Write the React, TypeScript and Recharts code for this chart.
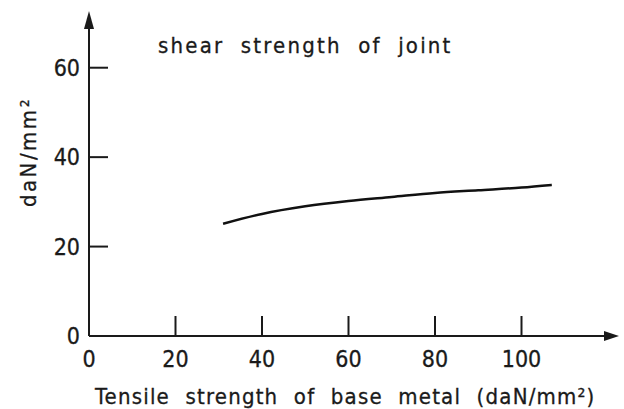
import { LineChart, Line, XAxis, YAxis, ReferenceDot } from "recharts";

// tensile strength of base metal (daN/mm²)
const tensile = [31, 40, 50, 60, 70, 80, 90, 100, 107];
// shear strength of joint (daN/mm²)
const shear = [25.1, 27.3, 29.0, 30.2, 31.1, 32.0, 32.6, 33.2, 33.8];

const xTicks = [0, 20, 40, 60, 80, 100];
const yTicks = [0, 20, 40, 60];

const data = tensile.map((t, i) => ({ t, s: shear[i] }));

const INK = "#1a1a1a";
const FONT = "'DejaVu Sans Condensed', 'DejaVu Sans', sans-serif";

function XTick(props: any) {
  const { x, y, payload } = props;
  return (
    <g>
      {payload.value !== 0 && (
        <line x1={x} y1={y} x2={x} y2={y - 20} stroke={INK} strokeWidth={2} />
      )}
      <text x={x} y={y + 31} textAnchor="middle" fontSize={23} fill={INK} fontFamily={FONT}
        stroke={INK} strokeWidth={0.3}>
        {payload.value}
      </text>
    </g>
  );
}

function YTick(props: any) {
  const { x, y, payload } = props;
  return (
    <g>
      {payload.value !== 0 && (
        <line x1={x} y1={y} x2={x + 19} y2={y} stroke={INK} strokeWidth={2} />
      )}
      <text x={x - 9} y={y + 8} textAnchor="end" fontSize={23} fill={INK} fontFamily={FONT}
        stroke={INK} strokeWidth={0.3}>
        {payload.value}
      </text>
    </g>
  );
}

function XArrow(props: any) {
  const { cx, cy } = props;
  return <polygon points={`${cx - 4},${cy - 5} ${cx + 11},${cy} ${cx - 4},${cy + 5}`} fill={INK} />;
}

function YArrow(props: any) {
  const { cx, cy } = props;
  return <polygon points={`${cx - 5},${cy + 6} ${cx},${cy - 12} ${cx + 5},${cy + 6}`} fill={INK} />;
}

export default function App() {
  return (
    <div style={{ position: "absolute", left: 0, top: 0, width: 624, height: 409, background: "#fff" }}>
      <LineChart
        width={624}
        height={409}
        data={data}
        margin={{ top: 23, right: 16, bottom: 43, left: 29 }}
      >
        <XAxis
          dataKey="t"
          type="number"
          domain={[0, 120]}
          ticks={xTicks}
          tick={<XTick />}
          tickLine={false}
          tickSize={0}
          tickMargin={0}
          height={30}
          axisLine={{ stroke: INK, strokeWidth: 2 }}
          interval={0}
        />
        <YAxis
          type="number"
          domain={[0, 70]}
          ticks={yTicks}
          tick={<YTick />}
          tickLine={false}
          tickSize={0}
          tickMargin={0}
          width={60}
          axisLine={{ stroke: INK, strokeWidth: 2 }}
          interval={0}
        />
        <ReferenceDot x={120} y={0} r={0} shape={<XArrow />} ifOverflow="visible" />
        <ReferenceDot x={0} y={70} r={0} shape={<YArrow />} ifOverflow="visible" />
        <Line
          dataKey="s"
          type="monotone"
          stroke="#111"
          strokeWidth={2.5}
          dot={false}
          isAnimationActive={false}
        />
        <text x={158} y={53} fontSize={22} fill={INK} fontFamily={FONT} letterSpacing={2.2}
          wordSpacing={8} stroke={INK} strokeWidth={0.3}>
          shear strength of joint
        </text>
        <text x={95} y={404} fontSize={22} fill={INK} fontFamily={FONT} letterSpacing={1.2}
          wordSpacing={8} stroke={INK} strokeWidth={0.3}>
          Tensile strength of base metal (daN/mm²)
        </text>
        <text
          x={36}
          y={152}
          transform="rotate(-90 36 152)"
          textAnchor="middle"
          fontSize={22}
          fill={INK}
          fontFamily={FONT}
          letterSpacing={2.5}
          stroke={INK}
          strokeWidth={0.3}
        >
          daN/mm²
        </text>
      </LineChart>
    </div>
  );
}
